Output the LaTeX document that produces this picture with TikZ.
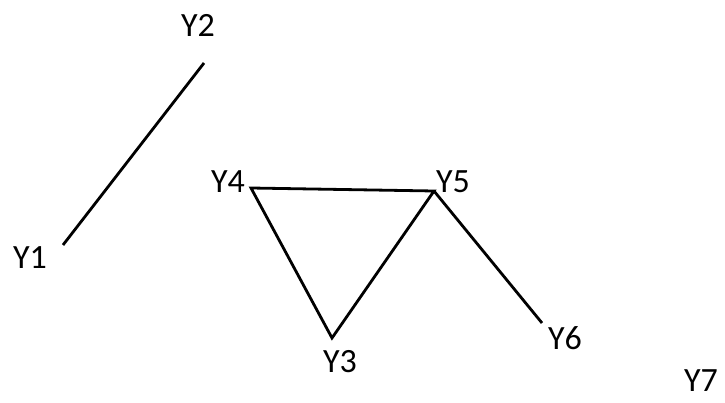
\documentclass[tikz,border=0pt]{standalone}
\usepackage{fontspec}
\setmainfont{Carlito}
\begin{document}
\begin{tikzpicture}[x=1pt,y=1pt,
  lbl/.style={inner sep=0pt,font=\fontsize{34}{40}\selectfont},
  edge/.style={line width=2.8pt,line join=miter,line cap=butt}]
\useasboundingbox (0,0) rectangle (725,402);
% vertices (y flipped: 402 - y_px)
\coordinate (p1) at (63,157);
\coordinate (p2) at (204,339);
\coordinate (p4) at (251,214);
\coordinate (p5) at (434,211);
\coordinate (p3) at (332,64);
\coordinate (p6) at (542,79);
% labels
\node[lbl] (Y1) at (30,144) {Y1};
\node[lbl] (Y2) at (198,377) {Y2};
\node[lbl] (Y4) at (228,220) {Y4};
\node[lbl] (Y5) at (453,220) {Y5};
\node[lbl] (Y3) at (340,40) {Y3};
\node[lbl] (Y6) at (565,64) {Y6};
\node[lbl] (Y7) at (701,21) {Y7};
% connectors
\draw[edge] (p1) -- (p2);
\draw[edge] (p4) -- (p5) -- (p3) -- cycle;
\draw[edge] (p5) -- (p6);
\end{tikzpicture}
\end{document}
